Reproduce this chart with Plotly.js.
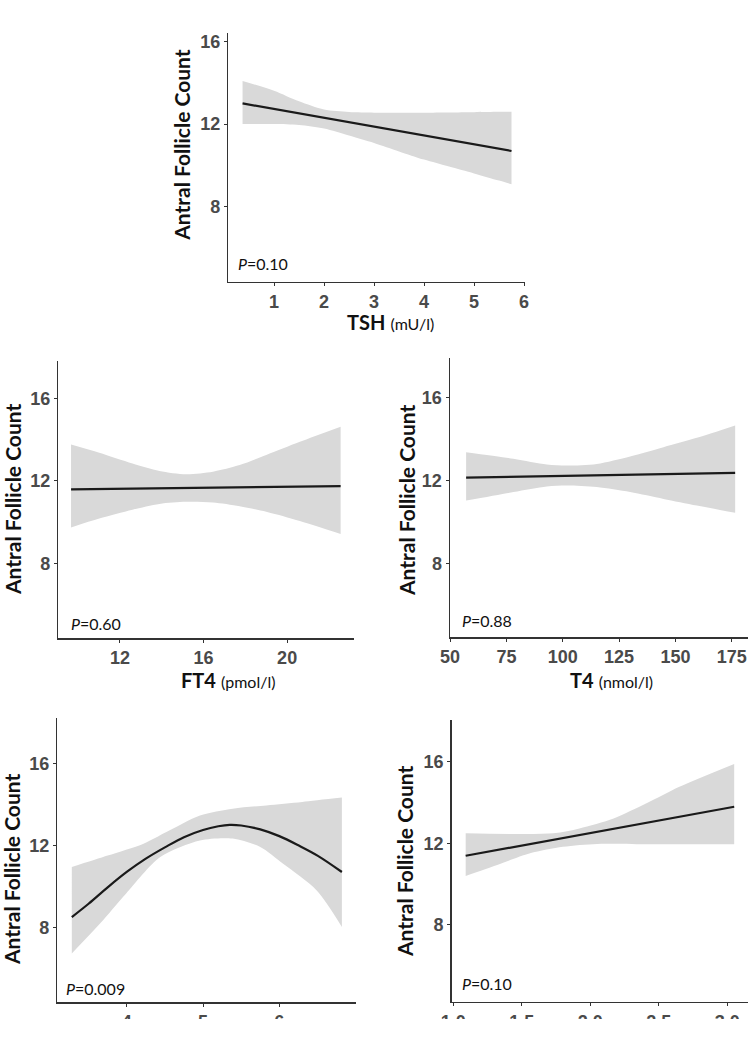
<!DOCTYPE html>
<html>
<head>
<meta charset="utf-8">
<script src="https://cdn.plot.ly/plotly-3.0.1.min.js"></script>
<style>html,body{margin:0;padding:0;background:#fff;}#chart{width:750px;height:1055px;}</style>
</head>
<body>
<div id="chart"></div>
<script>
// ---- Panel 1: TSH ----
const tshLineX = [0.37, 5.75];
const tshLineY = [13.0, 10.69];
const tshBandX = [0.37, 1.0, 1.5, 2.0, 2.5, 3.0, 3.5, 4.0, 4.5, 5.0, 5.5, 5.75];
const tshUpper = [14.09, 13.62, 13.1, 12.7, 12.58, 12.55, 12.55, 12.55, 12.56, 12.57, 12.59, 12.6];
const tshLower = [12.0, 12.0, 11.95, 11.78, 11.44, 11.08, 10.67, 10.27, 9.93, 9.6, 9.25, 9.07];
const tshTicks = [1, 2, 3, 4, 5, 6];

// ---- Panel 2: FT4 ----
const ft4LineX = [9.66, 22.56];
const ft4LineY = [11.58, 11.74];
const ft4BandX = [9.66, 11.01, 12.6, 13.89, 15.17, 16.45, 17.73, 19.0, 20.61, 22.56];
const ft4Upper = [13.76, 13.36, 12.84, 12.48, 12.32, 12.44, 12.76, 13.25, 13.89, 14.62];
const ft4Lower = [9.74, 10.17, 10.6, 10.88, 10.98, 10.95, 10.77, 10.5, 10.05, 9.42];
const ft4Ticks = [12, 16, 20];

// ---- Panel 3: T4 ----
const t4LineX = [57.1, 176.5];
const t4LineY = [12.14, 12.37];
const t4BandX = [57.1, 78.1, 92.9, 101.8, 115.1, 129.9, 144.7, 159.5, 176.5];
const t4Upper = [13.37, 13.05, 12.77, 12.72, 12.8, 13.16, 13.61, 14.06, 14.66];
const t4Lower = [11.03, 11.44, 11.71, 11.76, 11.68, 11.44, 11.11, 10.79, 10.44];
const t4Ticks = [50, 75, 100, 125, 150, 175];

// ---- Panel 4: bottom left ----
const p4LineX = [3.28, 3.5, 3.75, 4.0, 4.25, 4.5, 4.75, 5.0, 5.2, 5.35, 5.5, 5.75, 6.0, 6.25, 6.5, 6.82];
const p4LineY = [8.5, 9.15, 9.95, 10.7, 11.35, 11.9, 12.4, 12.75, 12.93, 13.0, 12.97, 12.78, 12.45, 12.0, 11.5, 10.7];
const p4UpperX = [3.28, 3.75, 4.22, 4.52, 4.96, 5.39, 5.83, 6.3, 6.82];
const p4Upper = [10.94, 11.5, 12.08, 12.65, 13.46, 13.79, 13.95, 14.12, 14.33];
const p4LowerX = [3.28, 3.65, 3.99, 4.44, 4.96, 5.39, 5.75, 6.05, 6.49, 6.82];
const p4Lower = [6.72, 8.18, 9.64, 11.43, 12.24, 12.33, 11.92, 11.1, 9.8, 8.02];
const p4Ticks = [4, 5, 6];

// ---- Panel 5: bottom right ----
const p5LineX = [1.09, 3.05];
const p5LineY = [11.39, 13.79];
const p5UpperX = [1.09, 1.73, 1.92, 2.17, 2.41, 2.65, 3.05];
const p5Upper = [12.49, 12.49, 12.73, 13.22, 13.96, 14.77, 15.89];
const p5LowerX = [1.09, 1.32, 1.56, 1.8, 2.05, 2.41, 3.05];
const p5Lower = [10.4, 10.94, 11.51, 11.83, 11.97, 11.95, 11.95];
const p5Ticks = [1.0, 1.5, 2.0, 2.5, 3.0];
const p5TickText = ['1.0', '1.5', '2.0', '2.5', '3.0'];

const yTicks = [8, 12, 16];
const yTitle = 'Antral Follicle Count';
const pLabels = ['0.10', '0.60', '0.88', '0.009', '0.10'];

const W = 750, H = 1055;
const BAND = '#d9d9d9';
const LINE = '#1a1a1a';

function band(ux, uy, lx, ly, ax) {
  const lower = {
    x: lx, y: ly, xaxis: 'x' + ax, yaxis: 'y' + ax,
    type: 'scatter', mode: 'lines',
    line: {width: 0, color: BAND, shape: 'spline', smoothing: 0.8},
    hoverinfo: 'skip'
  };
  const upper = {
    x: ux, y: uy, xaxis: 'x' + ax, yaxis: 'y' + ax,
    type: 'scatter', mode: 'lines', fill: 'tonexty', fillcolor: BAND,
    line: {width: 0, color: BAND, shape: 'spline', smoothing: 0.8},
    hoverinfo: 'skip'
  };
  return [lower, upper];
}
function line(x, y, ax, spline) {
  return {
    x: x, y: y, xaxis: 'x' + ax, yaxis: 'y' + ax,
    type: 'scatter', mode: 'lines',
    line: {color: LINE, width: 2.2, shape: spline ? 'spline' : 'linear'},
    hoverinfo: 'skip'
  };
}

const data = [].concat(
  band(tshBandX, tshUpper, tshBandX, tshLower, ''), [line(tshLineX, tshLineY, '')],
  band(ft4BandX, ft4Upper, ft4BandX, ft4Lower, '2'), [line(ft4LineX, ft4LineY, '2')],
  band(t4BandX, t4Upper, t4BandX, t4Lower, '3'), [line(t4LineX, t4LineY, '3')],
  band(p4UpperX, p4Upper, p4LowerX, p4Lower, '4'), [line(p4LineX, p4LineY, '4', true)],
  band(p5UpperX, p5Upper, p5LowerX, p5Lower, '5'), [line(p5LineX, p5LineY, '5')]
);

const tickFont = {family: 'Liberation Sans, Arial, sans-serif', size: 18, color: '#4a4a4a', weight: 'bold'};
function xax(px0, px1, range, tickvals, ticktext, anchor) {
  const a = {
    domain: [px0 / W, px1 / W], range: range, anchor: anchor,
    showgrid: false, zeroline: false, showline: true, linecolor: '#333', linewidth: 1.5,
    ticks: 'outside', ticklen: 3, tickwidth: 1, tickcolor: '#333',
    tickvals: tickvals, tickfont: tickFont, fixedrange: true
  };
  if (ticktext) a.ticktext = ticktext;
  return a;
}
function yax(py0, py1, range, anchor) {
  return {
    domain: [1 - py1 / H, 1 - py0 / H], range: range, anchor: anchor,
    showgrid: false, zeroline: false, showline: true, linecolor: '#333', linewidth: 1.5,
    ticks: 'outside', ticklen: 3, tickwidth: 1, tickcolor: '#333',
    tickvals: yTicks, tickfont: tickFont, fixedrange: true
  };
}

const titleFont = {family: 'Lato, Carlito, sans-serif', size: 21, color: '#111', weight: 'bold'};
function ytitle(px, py) {
  return {text: yTitle, x: px / W, y: 1 - py / H, xref: 'paper', yref: 'paper',
    textangle: -90, showarrow: false, xanchor: 'center', yanchor: 'middle', font: titleFont};
}
function xtitle(main, unit, px, py) {
  return {text: '<b>' + main + '</b> <span style="font-size:16px">' + unit + '</span>',
    x: px / W, y: 1 - py / H, xref: 'paper', yref: 'paper', showarrow: false,
    xanchor: 'center', yanchor: 'middle',
    font: {family: 'Lato, Carlito, sans-serif', size: 20, color: '#111'}};
}
function plabel(val, px, py) {
  return {text: '<i>P</i>=' + val, x: px / W, y: 1 - py / H, xref: 'paper', yref: 'paper',
    showarrow: false, xanchor: 'left', yanchor: 'middle',
    font: {family: 'Lato, Carlito, sans-serif', size: 16, color: '#111'}};
}

const layout = {
  width: W, height: H, margin: {l: 0, r: 0, t: 0, b: 0},
  paper_bgcolor: '#fff', plot_bgcolor: 'rgba(0,0,0,0)', showlegend: false,
  xaxis: xax(228.3, 525, [0.085, 6.02], tshTicks, null, 'y'),
  yaxis: yax(33, 281.7, [4.34, 16.42], 'x'),
  xaxis2: xax(58.3, 354, [9.05, 23.2], ft4Ticks, null, 'y2'),
  yaxis2: yax(361, 638.3, [4.36, 17.81], 'x2'),
  xaxis3: xax(450, 748, [49.95, 182.2], t4Ticks, null, 'y3'),
  yaxis3: yax(358, 637.3, [4.42, 17.92], 'x3'),
  xaxis4: xax(57.3, 356, [3.09, 7.005], p4Ticks, null, 'y4'),
  yaxis4: yax(718.3, 1002.3, [4.34, 18.2], 'x4'),
  xaxis5: xax(451.7, 748.3, [0.988, 3.153], p5Ticks, p5TickText, 'y5'),
  yaxis5: yax(720, 1001.7, [4.24, 18.04], 'x5'),
  annotations: [
    ytitle(181.7, 145), ytitle(12, 500), ytitle(406, 501), ytitle(11, 870), ytitle(404, 861),
    xtitle('TSH', '(mU/l)', 390, 322), xtitle('FT4', '(pmol/l)', 228, 680), xtitle('T4', '(nmol/l)', 611, 680),
    plabel(pLabels[0], 236, 264), plabel(pLabels[1], 69, 623), plabel(pLabels[2], 460, 620),
    plabel(pLabels[3], 64, 988), plabel(pLabels[4], 460, 983)
  ],
  shapes: [
    {type: 'rect', xref: 'paper', yref: 'paper', x0: 0, x1: 1, y0: 0, y1: (H - 1019) / H,
     fillcolor: '#fff', line: {width: 0}, layer: 'above'}
  ]
};

Plotly.newPlot('chart', data, layout, {staticPlot: true, displayModeBar: false});
</script>
</body>
</html>
